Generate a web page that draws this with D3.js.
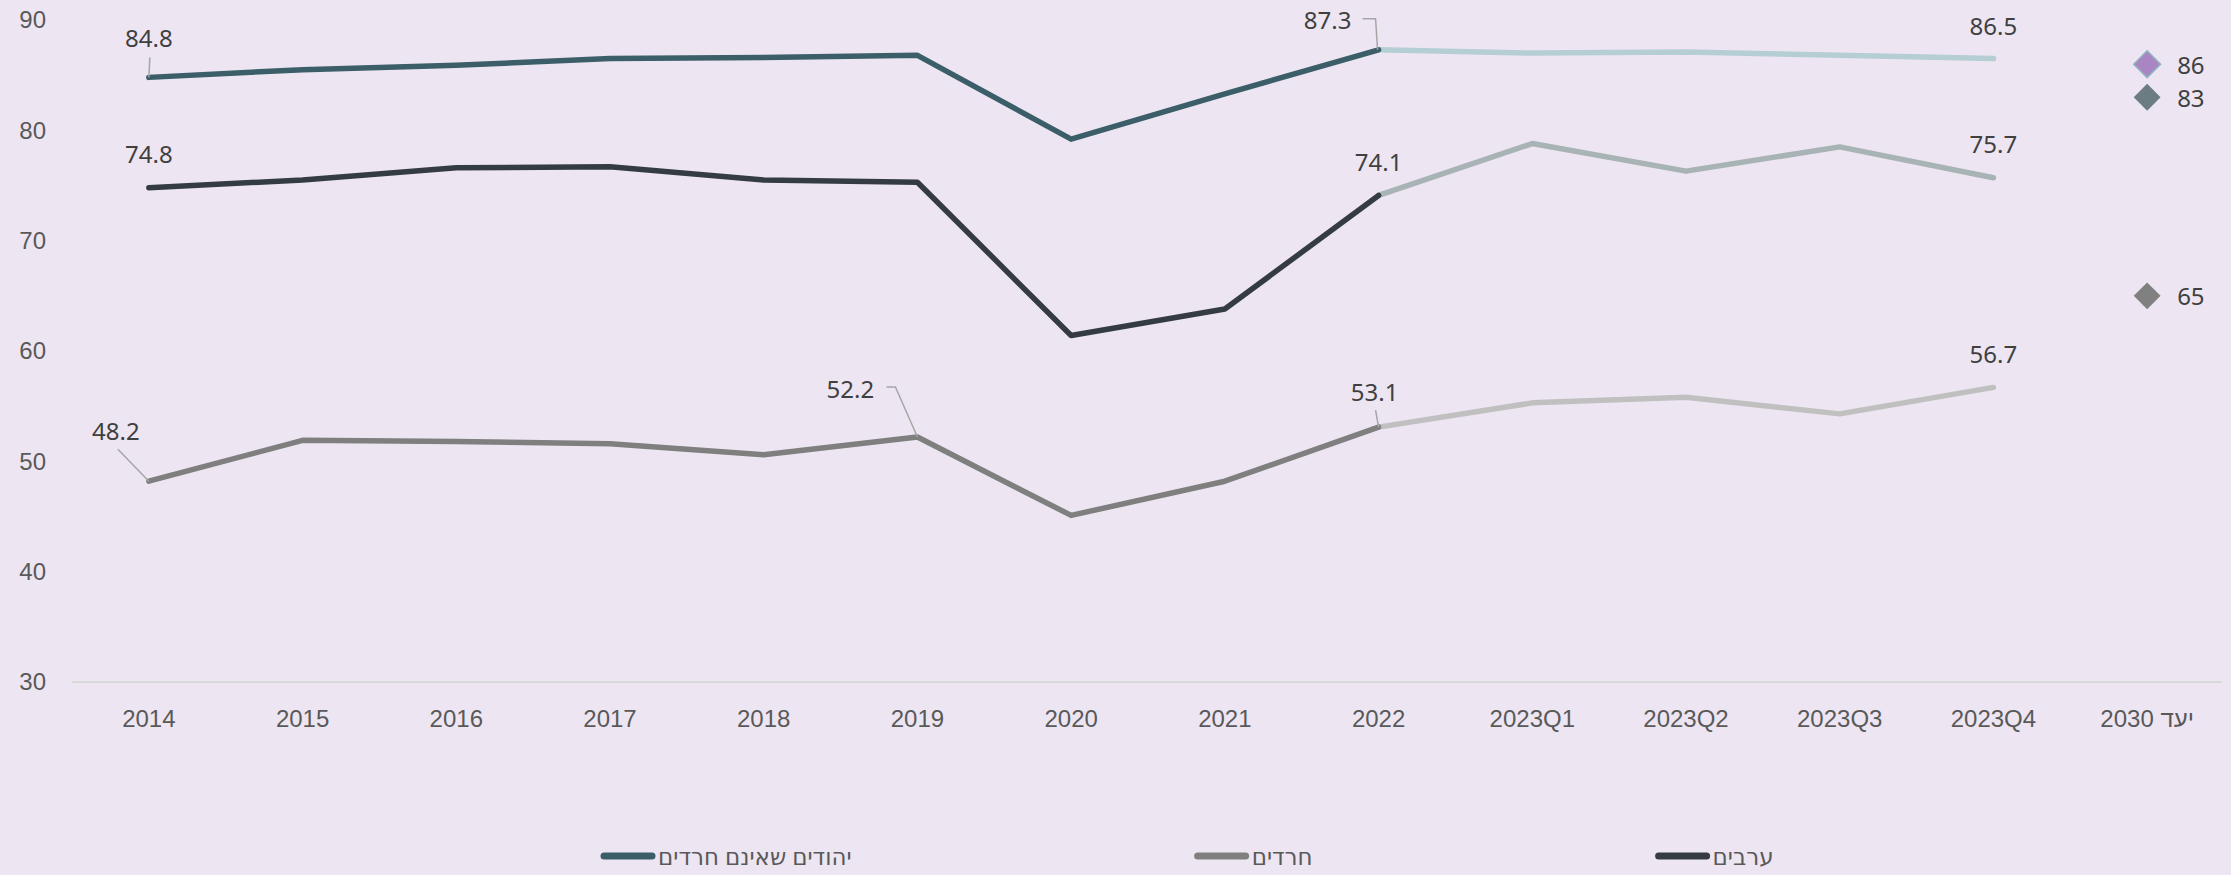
<!DOCTYPE html>
<html>
<head>
<meta charset="utf-8">
<script src="https://cdn.jsdelivr.net/npm/d3@7"></script>
<style>
  html, body { margin: 0; padding: 0; background: #ede6f2; }
  svg { display: block; font-family: 'Noto Sans', 'DejaVu Sans', sans-serif; }
</style>
</head>
<body>
<svg id="chart" width="2231" height="875"></svg>
<script>
// categories on the x axis
const categories = ['2014', '2015', '2016', '2017', '2018', '2019', '2020', '2021', '2022',
  '2023Q1', '2023Q2', '2023Q3', '2023Q4', 'יעד 2030']

// employment rate by group (null = no value for that category)
const jewsNonHaredi = [84.8, 85.5, 85.9, 86.5, 86.6, 86.8, 79.2, 83.3, 87.3, 87.0, 87.1, 86.8, 86.5, null]
const haredim = [48.2, 51.9, 51.8, 51.6, 50.6, 52.2, 45.1, 48.2, 53.1, 55.3, 55.8, 54.3, 56.7, null]
const arabs = [74.8, 75.5, 76.6, 76.7, 75.5, 75.3, 61.4, 63.8, 74.1, 78.8, 76.3, 78.5, 75.7, null]

// 2030 targets
const targetValues = [86, 83, 65]

const yTicks = [30, 40, 50, 60, 70, 80, 90]

// the yearly part ends at this index, the quarterly part starts there
const splitIndex = 8

const series = [
  { name: 'יהודים שאינם חרדים', values: jewsNonHaredi, dark: '#3b5e68', light: '#b5ced4' },
  { name: 'חרדים', values: haredim, dark: '#7f7f7f', light: '#c0c0c0' },
  { name: 'ערבים', values: arabs, dark: '#353c41', light: '#a8b3b5' }
]

const targetStyles = [
  { fill: '#a985c3', stroke: '#8fb5c2' },
  { fill: '#6b7d82', stroke: 'none' },
  { fill: '#808080', stroke: 'none' }
]

// which points get a value label; offsets and leaders are relative to the point
const annotations = [
  { s: 0, i: 0, dx: 0, dy: -40, leader: [[1, -20], [0, 0]] },
  { s: 2, i: 0, dx: 0, dy: -34 },
  { s: 1, i: 0, dx: -33, dy: -51, leader: [[-31, -32], [0, 0]] },
  { s: 1, i: 5, dx: -67, dy: -49, leader: [[-31, -50], [-22, -50], [0, 0]] },
  { s: 0, i: 8, dx: -51, dy: -30, leader: [[-16, -31], [-3, -31], [-1, 0]] },
  { s: 2, i: 8, dx: 0, dy: -34 },
  { s: 1, i: 8, dx: -4, dy: -36, leader: [[-3, -17], [0, 0]] },
  { s: 0, i: 12, dx: 0, dy: -33 },
  { s: 2, i: 12, dx: 0, dy: -34 },
  { s: 1, i: 12, dx: 0, dy: -34 }
]

const svg = d3.select('#chart')
const margin = { left: 72, right: 7, top: 20, bottom: 193 }
const width = 2231, height = 875

const x = d3.scaleBand()
  .domain(categories)
  .range([margin.left, width - margin.right])

const cx = c => x(c) + x.bandwidth() / 2

const y = d3.scaleLinear()
  .domain([30, 90])
  .range([height - margin.bottom, margin.top])

// baseline
svg.append('line')
  .attr('x1', margin.left)
  .attr('x2', width - margin.right - 2)
  .attr('y1', y(30))
  .attr('y2', y(30))
  .attr('stroke', '#d9d9d9')
  .attr('stroke-width', 2)

// y axis labels
svg.append('g')
  .attr('transform', `translate(46,0)`)
  .call(d3.axisLeft(y).tickValues(yTicks).tickSize(0).tickPadding(0))
  .call(g => g.select('.domain').remove())
  .selectAll('text')
  .attr('font-size', 24)
  .attr('font-family', null)
  .attr('fill', '#595959')

// x axis labels
svg.append('g')
  .attr('transform', `translate(0,${y(30)})`)
  .call(d3.axisBottom(x).tickSize(0).tickPadding(28))
  .call(g => g.select('.domain').remove())
  .selectAll('text')
  .attr('font-size', 24)
  .attr('font-family', null)
  .attr('fill', '#595959')
  .style('direction', d => /[\u0590-\u05FF]/.test(d) ? 'rtl' : null)

const line = d3.line()
  .defined(d => d.v != null)
  .x(d => cx(d.c))
  .y(d => y(d.v))

const lines = svg.append('g')
  .attr('fill', 'none')
  .attr('stroke-width', 5.5)
  .attr('stroke-linecap', 'round')
  .attr('stroke-linejoin', 'round')

series.forEach(s => {
  const pts = s.values.map((v, i) => ({ c: categories[i], v }))
  // quarterly part first so the yearly part sits on top at the joint
  lines.append('path')
    .attr('d', line(pts.slice(splitIndex)))
    .attr('stroke', s.light)
  lines.append('path')
    .attr('d', line(pts.slice(0, splitIndex + 1)))
    .attr('stroke', s.dark)
})

// leader lines and value labels
const labels = svg.append('g')
annotations.forEach(a => {
  const s = series[a.s]
  const px = cx(categories[a.i])
  const py = y(s.values[a.i])
  if (a.leader) {
    labels.append('polyline')
      .attr('points', a.leader.map(p => [px + p[0], py + p[1]].join(',')).join(' '))
      .attr('fill', 'none')
      .attr('stroke', '#a6a6a6')
      .attr('stroke-width', 1.5)
  }
  labels.append('text')
    .attr('x', px + a.dx)
    .attr('y', py + a.dy)
    .attr('text-anchor', 'middle')
    .attr('dominant-baseline', 'central')
    .attr('font-size', 24)
    .attr('fill', '#404040')
    .text(d3.format('.1f')(s.values[a.i]))
})

// 2030 targets
const tx = cx(categories[categories.length - 1])
const targets = svg.append('g')
  .selectAll('g')
  .data(targetValues)
  .join('g')
  .attr('transform', d => `translate(${tx},${y(d)})`)

targets.append('path')
  .attr('d', d3.symbol(d3.symbolSquare, 361))
  .attr('transform', 'rotate(45)')
  .attr('fill', (d, i) => targetStyles[i].fill)
  .attr('stroke', (d, i) => targetStyles[i].stroke)
  .attr('stroke-width', 1.5)

targets.append('text')
  .attr('x', 30)
  .attr('dominant-baseline', 'central')
  .attr('font-size', 24)
  .attr('fill', '#404040')
  .text(d => d)

// legend
const legend = svg.append('g')
let lx = 600
const legendY = 856
series.forEach(s => {
  legend.append('line')
    .attr('x1', lx + 4)
    .attr('x2', lx + 52)
    .attr('y1', legendY)
    .attr('y2', legendY)
    .attr('stroke', s.dark)
    .attr('stroke-width', 7)
    .attr('stroke-linecap', 'round')
  const t = legend.append('text')
    .attr('x', lx + 58)
    .attr('y', legendY)
    .attr('dominant-baseline', 'central')
    .attr('font-size', 23)
    .attr('fill', '#595959')
    .text(s.name)
  lx += 58 + t.node().getComputedTextLength() + 342
})
</script>
</body>
</html>
